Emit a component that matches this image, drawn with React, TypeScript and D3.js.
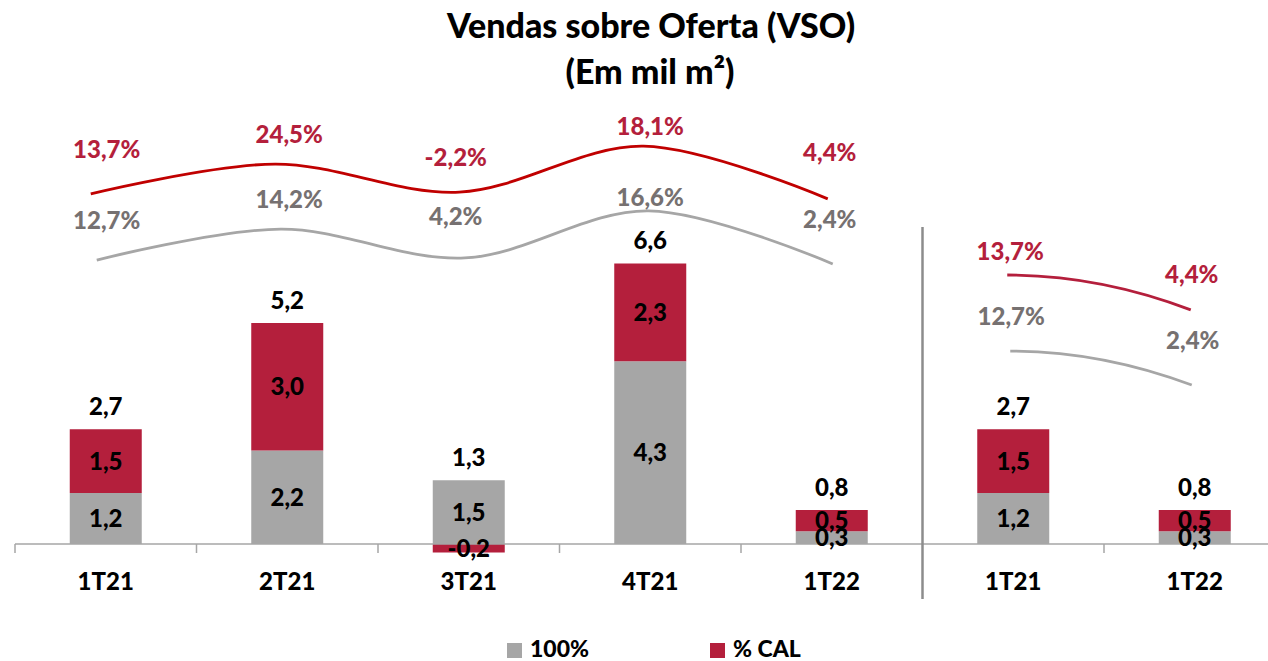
import React from "react";
import * as d3 from "d3";

// ---- data ----
const categories = ["1T21", "2T21", "3T21", "4T21", "1T22", "1T21", "1T22"];
const leftCount = 5; // first 5 categories form the quarterly group, last 2 the comparison group
const full100 = [1.2, 2.2, 1.5, 4.3, 0.3, 1.2, 0.3];
const calPart = [1.5, 3.0, -0.2, 2.3, 0.5, 1.5, 0.5];
const totals = [2.7, 5.2, 1.3, 6.6, 0.8, 2.7, 0.8];

const vsoCalLeft = [13.7, 24.5, -2.2, 18.1, 4.4];
const vso100Left = [12.7, 14.2, 4.2, 16.6, 2.4];
const vsoCalRight = [13.7, 4.4];
const vso100Right = [12.7, 2.4];

// curve levels as drawn on the (hidden) secondary axis, 0-100
const calCurveLeft = [82.4, 89.4, 82.8, 93.6, 81.2];
const fullCurveLeft = [66.8, 74.1, 67.3, 78.4, 65.9];
const calCurveRight = [63.3, 55.1];
const fullCurveRight = [45.4, 37.4];

const legendItems = ["100%", "% CAL"];

// ---- styles / layout ----
const W = 1268;
const H = 661;
const FONT = "Lato, 'Open Sans', sans-serif";
const GRAY_BAR = "#A6A6A6";
const RED_BAR = "#B41F3C";
const RED_LINE = "#C00000";
const RED_LINE_R = "#B41F3C";
const GRAY_LINE = "#A6A6A6";
const RED_TXT = "#B41F3C";
const GRAY_TXT = "#767171";

// label nudges (px) relative to curve points
const calLabelDyLeft = [-44, -30, -35, -20, -47];
const fullLabelDyLeft = [-40, -30, -42, -13, -45];
const calLabelDyRight = [-24, -35];
const fullLabelDyRight = [-35, -45];
const labelDxLeft = [1, 2, -13, 0, -2];

const fmt = (v: number) => d3.format(".1f")(v).replace(".", ",").replace("−", "-");

export default function App() {
  const step = 181.5;
  const x0 = 15;
  const barW = 72;
  const p = 1 - barW / step;
  const x = d3
    .scaleBand<number>()
    .domain(d3.range(categories.length))
    .range([x0, x0 + step * categories.length])
    .paddingInner(p)
    .paddingOuter(p / 2);
  const cx = (i: number) => (x(i) as number) + x.bandwidth() / 2;
  const boundary = (i: number) => x0 + i * x.step();

  const y = d3.scaleLinear().domain([0, 10]).range([544, 119]);
  const yL = d3.scaleLinear().domain([0, 100]).range([544, 119]);

  const rows = categories.map((c, i) => ({ i, full: full100[i], cal: calPart[i] }));
  const series = d3
    .stack<any>()
    .keys(["full", "cal"])
    .offset(d3.stackOffsetDiverging)(rows);

  const colors: Record<string, string> = { full: GRAY_BAR, cal: RED_BAR };

  const leftIdx = d3.range(leftCount);
  const calX = d3.scalePoint<number>().domain(leftIdx).range([cx(0) - 15, cx(4) - 4]);
  const fullX = d3.scalePoint<number>().domain(leftIdx).range([cx(0) - 9, cx(4) + 1]);
  const rightIdx = [0, 1];
  const calXR = d3.scalePoint<number>().domain(rightIdx).range([cx(5) - 6, cx(6) - 4]);
  const fullXR = d3.scalePoint<number>().domain(rightIdx).range([cx(5) - 3, cx(6) - 3]);

  const calPath = d3
    .line<number>()
    .curve(d3.curveCatmullRom.alpha(0.5))
    .x((_, i) => calX(i) as number)
    .y((v) => yL(v))(calCurveLeft);
  const fullPath = d3
    .line<number>()
    .curve(d3.curveCatmullRom.alpha(0.5))
    .x((_, i) => fullX(i) as number)
    .y((v) => yL(v))(fullCurveLeft);

  const bend = (xs: d3.ScalePoint<number>, vals: number[]) => {
    const p0x = xs(0) as number;
    const p1x = xs(1) as number;
    const p0y = yL(vals[0]);
    const p1y = yL(vals[1]);
    const pth = d3.path();
    pth.moveTo(p0x, p0y);
    pth.quadraticCurveTo((p0x + p1x) / 2, p0y, p1x, p1y);
    return pth.toString();
  };

  const labelStyle = {
    fontFamily: FONT,
    fontWeight: 900,
    fontSize: 24,
  } as const;

  return (
    <svg
      width={W}
      height={H}
      style={{ position: "absolute", left: 0, top: 0, background: "#fff" }}
    >
      <rect width={W} height={H} fill="#fff" />
      {/* title */}
      <text x={651} y={38} textAnchor="middle" style={{ ...labelStyle, fontSize: 34 }} fill="#000">
        Vendas sobre Oferta (VSO)
      </text>
      <text x={650} y={84} textAnchor="middle" style={{ ...labelStyle, fontSize: 34 }} fill="#000">
        (Em mil m²)
      </text>

      {/* bars */}
      {series.map((s) => (
        <g key={s.key} fill={colors[s.key]}>
          {s.map((d, i) => (
            <rect
              key={i}
              x={x(i)}
              width={x.bandwidth()}
              y={y(Math.max(d[0], d[1]))}
              height={Math.abs(y(d[0]) - y(d[1]))}
            />
          ))}
        </g>
      ))}

      {/* axis */}
      <line x1={boundary(0)} x2={W} y1={y(0)} y2={y(0)} stroke="#A6A6A6" strokeWidth={1.5} />
      {d3.range(categories.length)
        .filter((i) => i !== leftCount)
        .map((i) => (
          <line
            key={i}
            x1={boundary(i)}
            x2={boundary(i)}
            y1={y(0)}
            y2={y(0) + 9}
            stroke="#A6A6A6"
            strokeWidth={1.5}
          />
        ))}
      <line
        x1={boundary(leftCount)}
        x2={boundary(leftCount)}
        y1={227}
        y2={599}
        stroke="#8C8C8C"
        strokeWidth={2.5}
      />

      {/* segment labels */}
      {series.map((s) =>
        s.map((d, i) => (
          <text
            key={s.key + i}
            x={cx(i)}
            y={(y(d[0]) + y(d[1])) / 2}
            dy="0.36em"
            textAnchor="middle"
            style={labelStyle}
            fill="#000"
          >
            {fmt(s.key === "full" ? full100[i] : calPart[i])}
          </text>
        ))
      )}

      {/* totals */}
      {totals.map((t, i) => {
        const top = y(full100[i] + Math.max(calPart[i], 0));
        return (
          <text
            key={i}
            x={cx(i)}
            y={top - 23}
            dy="0.36em"
            textAnchor="middle"
            style={labelStyle}
            fill="#000"
          >
            {fmt(t)}
          </text>
        );
      })}

      {/* category labels */}
      {categories.map((c, i) => (
        <text
          key={i}
          x={cx(i)}
          y={581}
          dy="0.36em"
          textAnchor="middle"
          style={labelStyle}
          fill="#000"
        >
          {c}
        </text>
      ))}

      {/* lines */}
      <path d={calPath || ""} fill="none" stroke={RED_LINE} strokeWidth={2.8} />
      <path d={fullPath || ""} fill="none" stroke={GRAY_LINE} strokeWidth={2.8} />
      <path d={bend(calXR, calCurveRight)} fill="none" stroke={RED_LINE_R} strokeWidth={2.8} />
      <path d={bend(fullXR, fullCurveRight)} fill="none" stroke={GRAY_LINE} strokeWidth={2.8} />

      {/* line labels left */}
      {vsoCalLeft.map((v, i) => (
        <text
          key={"cl" + i}
          x={cx(i) + labelDxLeft[i]}
          y={yL(calCurveLeft[i]) + calLabelDyLeft[i]}
          dy="0.36em"
          textAnchor="middle"
          style={labelStyle}
          fill={RED_TXT}
        >
          {fmt(v)}%
        </text>
      ))}
      {vso100Left.map((v, i) => (
        <text
          key={"fl" + i}
          x={cx(i) + labelDxLeft[i]}
          y={yL(fullCurveLeft[i]) + fullLabelDyLeft[i]}
          dy="0.36em"
          textAnchor="middle"
          style={labelStyle}
          fill={GRAY_TXT}
        >
          {fmt(v)}%
        </text>
      ))}
      {vsoCalRight.map((v, i) => (
        <text
          key={"cr" + i}
          x={cx(leftCount + i) - 3}
          y={yL(calCurveRight[i]) + calLabelDyRight[i]}
          dy="0.36em"
          textAnchor="middle"
          style={labelStyle}
          fill={RED_TXT}
        >
          {fmt(v)}%
        </text>
      ))}
      {vso100Right.map((v, i) => (
        <text
          key={"fr" + i}
          x={cx(leftCount + i) - 2}
          y={yL(fullCurveRight[i]) + fullLabelDyRight[i]}
          dy="0.36em"
          textAnchor="middle"
          style={labelStyle}
          fill={GRAY_TXT}
        >
          {fmt(v)}%
        </text>
      ))}

      {/* legend */}
      {legendItems.map((l, i) => {
        const lx = 507 + i * 203;
        return (
          <g key={l}>
            <rect x={lx} y={643} width={15} height={15} fill={i === 0 ? GRAY_BAR : RED_BAR} />
            <text x={lx + 23} y={649} dy="0.36em" style={{ ...labelStyle, fontSize: 23 }} fill="#000">
              {l}
            </text>
          </g>
        );
      })}
    </svg>
  );
}
